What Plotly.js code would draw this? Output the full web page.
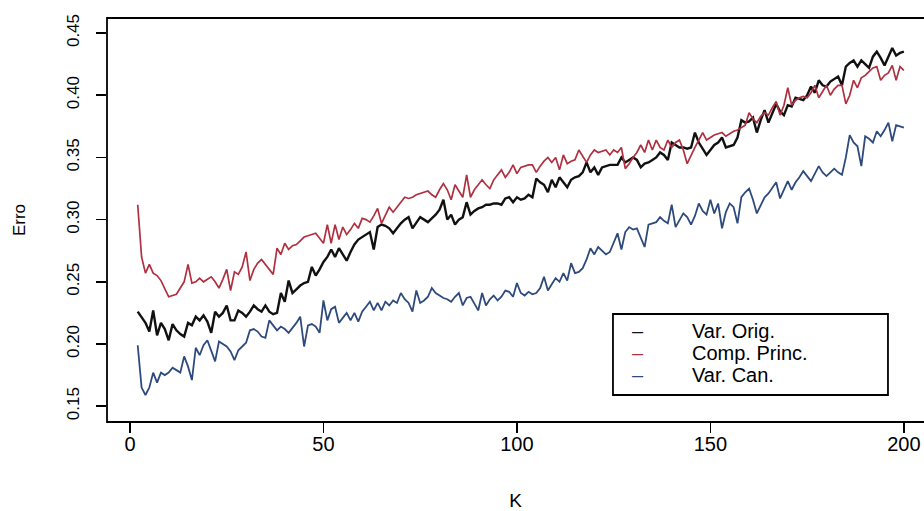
<!DOCTYPE html>
<html>
<head>
<meta charset="utf-8">
<script src="https://cdn.plot.ly/plotly-3.0.1.min.js"></script>
<style>html,body{margin:0;padding:0;background:#fff;}#chart{width:924px;height:511px;}</style>
</head>
<body>
<div id="chart"></div>
<script>
const kValues = [2,3,4,5,6,7,8,9,10,11,12,13,14,15,16,17,18,19,20,21,22,23,24,25,26,27,28,29,30,31,32,33,34,35,36,37,38,39,40,41,42,43,44,45,46,47,48,49,50,51,52,53,54,55,56,57,58,59,60,61,62,63,64,65,66,67,68,69,70,71,72,73,74,75,76,77,78,79,80,81,82,83,84,85,86,87,88,89,90,91,92,93,94,95,96,97,98,99,100,101,102,103,104,105,106,107,108,109,110,111,112,113,114,115,116,117,118,119,120,121,122,123,124,125,126,127,128,129,130,131,132,133,134,135,136,137,138,139,140,141,142,143,144,145,146,147,148,149,150,151,152,153,154,155,156,157,158,159,160,161,162,163,164,165,166,167,168,169,170,171,172,173,174,175,176,177,178,179,180,181,182,183,184,185,186,187,188,189,190,191,192,193,194,195,196,197,198,199,200];

const seriesNames = ["Var. Orig.", "Comp. Princ.", "Var. Can."];

const errVarOrig = [0.226,0.221,0.217,0.210,0.227,0.207,0.217,0.212,0.203,0.216,
0.211,0.208,0.206,0.217,0.215,0.222,0.219,0.223,0.218,0.209,
0.226,0.222,0.225,0.231,0.219,0.219,0.227,0.225,0.222,0.226,
0.231,0.228,0.226,0.231,0.226,0.224,0.225,0.241,0.234,0.251,
0.241,0.244,0.247,0.249,0.250,0.262,0.255,0.260,0.266,0.270,
0.276,0.270,0.277,0.272,0.267,0.274,0.280,0.284,0.286,0.288,
0.290,0.276,0.294,0.296,0.295,0.293,0.289,0.293,0.297,0.300,
0.302,0.293,0.298,0.302,0.300,0.298,0.301,0.304,0.308,0.316,
0.300,0.304,0.296,0.300,0.302,0.314,0.304,0.307,0.309,0.310,
0.312,0.312,0.313,0.313,0.312,0.317,0.318,0.314,0.318,0.316,
0.317,0.320,0.318,0.333,0.330,0.328,0.322,0.332,0.326,0.334,
0.330,0.326,0.332,0.334,0.335,0.338,0.346,0.338,0.342,0.336,
0.342,0.343,0.344,0.344,0.344,0.350,0.346,0.348,0.350,0.348,
0.342,0.345,0.346,0.348,0.350,0.354,0.352,0.348,0.362,0.360,
0.358,0.358,0.357,0.358,0.370,0.362,0.357,0.352,0.356,0.360,
0.362,0.366,0.358,0.359,0.360,0.366,0.380,0.378,0.379,0.382,
0.370,0.380,0.388,0.378,0.386,0.393,0.387,0.384,0.392,0.391,
0.398,0.397,0.396,0.400,0.407,0.402,0.412,0.408,0.407,0.411,
0.413,0.415,0.408,0.423,0.426,0.428,0.423,0.428,0.425,0.422,
0.431,0.435,0.430,0.424,0.431,0.438,0.432,0.434,0.435];

const errCompPrinc = [0.312,0.270,0.257,0.264,0.257,0.255,0.251,0.244,0.238,0.239,
0.240,0.245,0.250,0.264,0.249,0.250,0.253,0.250,0.252,0.254,
0.250,0.245,0.252,0.260,0.243,0.258,0.256,0.262,0.274,0.251,
0.260,0.265,0.268,0.264,0.260,0.256,0.277,0.272,0.281,0.276,
0.279,0.280,0.283,0.286,0.287,0.288,0.289,0.285,0.281,0.296,
0.281,0.296,0.284,0.294,0.288,0.292,0.297,0.293,0.301,0.300,
0.298,0.303,0.309,0.297,0.304,0.310,0.306,0.310,0.314,0.318,
0.317,0.318,0.320,0.321,0.322,0.323,0.320,0.318,0.324,0.329,
0.324,0.316,0.328,0.323,0.318,0.336,0.318,0.324,0.328,0.332,
0.328,0.325,0.332,0.336,0.340,0.334,0.338,0.344,0.337,0.342,
0.343,0.344,0.344,0.338,0.343,0.347,0.350,0.346,0.350,0.340,
0.352,0.345,0.347,0.348,0.356,0.351,0.346,0.352,0.356,0.354,
0.355,0.356,0.352,0.356,0.354,0.358,0.341,0.345,0.350,0.354,
0.360,0.354,0.364,0.356,0.364,0.358,0.356,0.364,0.358,0.362,
0.364,0.356,0.345,0.352,0.358,0.364,0.370,0.364,0.366,0.368,
0.369,0.370,0.367,0.369,0.371,0.372,0.374,0.376,0.386,0.381,
0.378,0.383,0.386,0.384,0.390,0.395,0.384,0.392,0.406,0.392,
0.396,0.398,0.399,0.398,0.402,0.408,0.398,0.403,0.408,0.400,
0.405,0.408,0.408,0.393,0.400,0.412,0.406,0.414,0.416,0.419,
0.422,0.423,0.412,0.416,0.418,0.424,0.412,0.423,0.420];

const errVarCan = [0.199,0.165,0.159,0.165,0.177,0.169,0.177,0.175,0.177,0.181,
0.179,0.177,0.190,0.182,0.171,0.197,0.191,0.199,0.203,0.195,
0.186,0.202,0.200,0.198,0.194,0.187,0.195,0.198,0.201,0.211,
0.212,0.210,0.206,0.205,0.219,0.215,0.211,0.214,0.212,0.209,
0.213,0.217,0.222,0.198,0.215,0.216,0.214,0.209,0.235,0.219,
0.228,0.230,0.217,0.221,0.225,0.219,0.225,0.218,0.226,0.230,
0.234,0.227,0.233,0.227,0.234,0.231,0.235,0.233,0.241,0.236,
0.233,0.226,0.243,0.233,0.235,0.238,0.245,0.241,0.239,0.237,
0.236,0.234,0.238,0.241,0.231,0.237,0.238,0.233,0.227,0.241,
0.231,0.236,0.239,0.235,0.238,0.243,0.242,0.238,0.249,0.241,
0.239,0.242,0.240,0.241,0.245,0.254,0.243,0.248,0.253,0.250,
0.257,0.251,0.265,0.257,0.258,0.261,0.268,0.277,0.272,0.278,
0.275,0.272,0.274,0.281,0.289,0.276,0.290,0.294,0.292,0.293,
0.286,0.278,0.296,0.297,0.298,0.302,0.299,0.297,0.312,0.294,
0.300,0.305,0.302,0.296,0.303,0.313,0.307,0.304,0.316,0.305,
0.313,0.293,0.306,0.313,0.310,0.297,0.318,0.322,0.325,0.316,
0.305,0.312,0.318,0.321,0.326,0.330,0.317,0.324,0.331,0.324,
0.330,0.334,0.339,0.335,0.331,0.337,0.343,0.338,0.335,0.338,
0.341,0.338,0.336,0.350,0.368,0.362,0.359,0.343,0.367,0.365,
0.362,0.371,0.367,0.372,0.378,0.363,0.376,0.375,0.374];

const xTickVals = [0, 50, 100, 150, 200];
const xTickText = ["0", "50", "100", "150", "200"];
const yTickVals = [0.15, 0.20, 0.25, 0.30, 0.35, 0.40, 0.45];
const yTickText = ["0.15", "0.20", "0.25", "0.30", "0.35", "0.40", "0.45"];

const colors = ["#111111", "#b03040", "#2e4a7d"];
const widths = [2.4, 1.7, 1.8];
const seriesData = [errVarOrig, errCompPrinc, errVarCan];

const FONT = "Liberation Sans, Arial, Helvetica, sans-serif";

const traces = seriesData.map((ys, i) => ({
  type: "scatter",
  mode: "lines",
  x: kValues,
  y: ys,
  name: seriesNames[i],
  line: {color: colors[i], width: widths[i]},
  showlegend: false,
  hoverinfo: "x+y+name"
}));

// manual R-style legend
const legX0 = 0.6193, legX1 = 0.9559, legY0 = 0.0668, legY1 = 0.2673;
const rowY = [0.2252, 0.1708, 0.1163];
const annotations = [];
seriesNames.forEach((n, i) => {
  annotations.push({xref: "paper", yref: "paper", x: 0.650, y: rowY[i], text: "\u2013",
    showarrow: false, xanchor: "center", yanchor: "middle",
    font: {family: FONT, size: 20, color: colors[i]}});
  annotations.push({xref: "paper", yref: "paper", x: 0.7136, y: rowY[i], text: n,
    showarrow: false, xanchor: "left", yanchor: "middle",
    font: {family: FONT, size: 20, color: "#000"}});
});

const layout = {
  width: 924, height: 511,
  margin: {l: 107, r: 0, t: 18, b: 89, pad: 0},
  paper_bgcolor: "#fff", plot_bgcolor: "#fff",
  font: {family: FONT, color: "#000"},
  showlegend: false,
  xaxis: {
    range: [-5.94, 205.2],
    tickmode: "array", tickvals: xTickVals, ticktext: xTickText,
    ticks: "outside", ticklen: 10, tickwidth: 1.5, tickcolor: "#000",
    showgrid: false, zeroline: false, showline: false,
    tickfont: {family: FONT, size: 20, color: "#000"},
    ticklabelstandoff: -6,
    title: {text: "K", font: {family: FONT, size: 19, color: "#000"}, standoff: 40}
  },
  yaxis: {
    range: [0.1373, 0.4621],
    tickmode: "array", tickvals: yTickVals, ticktext: yTickText,
    ticks: "outside", ticklen: 10, tickwidth: 1.5, tickcolor: "#000",
    tickangle: -90,
    showgrid: false, zeroline: false, showline: false,
    tickfont: {family: FONT, size: 17, color: "#000"},
    ticklabelstandoff: 10,
    title: {text: "Erro", font: {family: FONT, size: 17, color: "#000"}, standoff: 34}
  },
  shapes: [
    {type: "rect", xref: "paper", yref: "paper", x0: 0, x1: 1.05, y0: 0, y1: 1,
      line: {color: "#000", width: 1.8}, layer: "above"},
    {type: "rect", xref: "paper", yref: "paper", x0: legX0, x1: legX1, y0: legY0, y1: legY1,
      line: {color: "#000", width: 1.8}, fillcolor: "#fff", layer: "above"}
  ],
  annotations: annotations
};

Plotly.newPlot("chart", traces, layout, {displayModeBar: false, staticPlot: true});
</script>
</body>
</html>
